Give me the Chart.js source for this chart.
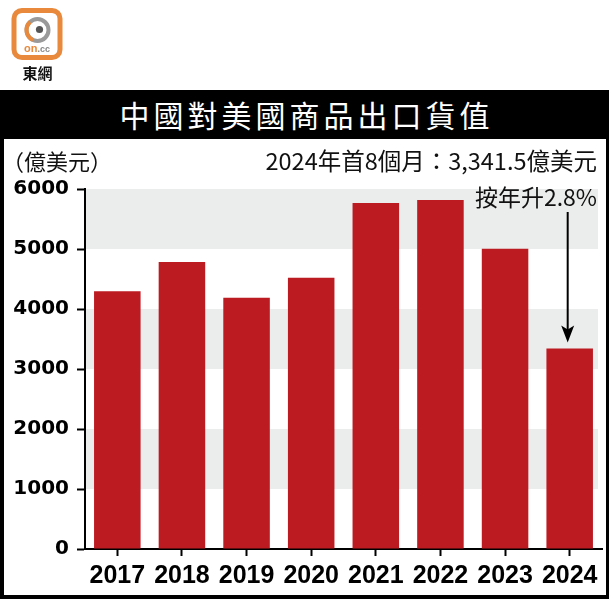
<!DOCTYPE html>
<html>
<head>
<meta charset="utf-8">
<script src="https://cdn.jsdelivr.net/npm/chart.js@4.4.1/dist/chart.umd.min.js"></script>
<style>
  html, body { margin: 0; padding: 0; background: #fff; }
  #wrap { position: relative; width: 609px; height: 599px; overflow: hidden; }
  #c { position: absolute; left: 0; top: 0; }
  .frame { position: absolute; left: 0; top: 90px; width: 609px; height: 509px; box-sizing: border-box;
           border-left: 4px solid #000; border-right: 3px solid #000; border-bottom: 4px solid #000; pointer-events: none; }
  .titlebar { position: absolute; left: 0; top: 90px; width: 609px; height: 49px; background: #000; color: #fff;
              font-family: "Noto Sans CJK TC", "Noto Sans CJK SC", sans-serif; font-size: 30px; line-height: 49px;
              text-align: center; letter-spacing: 4px; text-indent: 4px; }
  .txt { position: absolute; font-family: "Noto Sans CJK TC", "Noto Sans CJK SC", sans-serif; color: #111; line-height: 1; white-space: nowrap; }
  #unit { left: 2px; top: 149px; font-size: 22px; }
  #note1 { right: 12px; top: 149px; font-size: 23.5px; }
  #note2 { right: 12px; top: 185px; font-size: 23px; }
  #logo { position: absolute; left: 0; top: 0; }
</style>
</head>
<body>
<div id="wrap">
  <canvas id="c" width="609" height="599"></canvas>
  <svg id="logo" width="80" height="85" viewBox="0 0 80 85">
    <rect x="14" y="10.5" width="46" height="47" rx="8" ry="8" fill="#fff" stroke="#e8893b" stroke-width="5"/>
    <circle cx="37.5" cy="30" r="11" fill="none" stroke="#9a9a9a" stroke-width="4"/>
    <path d="M 30 22 A 11 11 0 0 0 33 40" fill="none" stroke="#e8893b" stroke-width="4"/>
    <circle cx="39.5" cy="29.5" r="3.6" fill="#555"/>
    <text x="37" y="52" text-anchor="middle" font-family="Liberation Sans, Arial, sans-serif" font-size="11" font-weight="bold"><tspan fill="#e8893b">on</tspan><tspan fill="#888" font-size="9">.cc</tspan></text>
    <text x="37.5" y="78.5" text-anchor="middle" font-family="Noto Sans CJK TC, sans-serif" font-size="15" font-weight="bold" fill="#111">東網</text>
  </svg>
  <div class="titlebar">中國對美國商品出口貨值</div>
  <div class="frame"></div>
  <div class="txt" id="unit">（億美元）</div>
  <div class="txt" id="note1">2024年首8個月：3,341.5億美元</div>
  <div class="txt" id="note2">按年升2.8%</div>
</div>
<script>
// ---- data ----
const years = ['2017', '2018', '2019', '2020', '2021', '2022', '2023', '2024'];
const exportValues = [4295, 4784, 4186, 4520, 5765, 5815, 5003, 3341.5];
const yMin = 0;
const yMax = 6000;
const yStep = 1000;
const shadedBands = [[1000, 2000], [3000, 4000], [5000, 6000]];
const arrowIndex = 7;

const bandPlugin = {
  id: 'bands',
  beforeDatasetsDraw(chart) {
    const { ctx, chartArea, scales } = chart;
    const y = scales.y;
    ctx.save();
    ctx.fillStyle = '#ebecec';
    shadedBands.forEach(([lo, hi]) => {
      const top = y.getPixelForValue(hi);
      const bot = y.getPixelForValue(lo);
      ctx.fillRect(chartArea.left + 1, top, 598 - chartArea.left - 1, bot - top);
    });
    ctx.restore();
  }
};

const arrowPlugin = {
  id: 'arrow',
  afterDatasetsDraw(chart) {
    const { ctx, scales } = chart;
    const x = scales.x.getPixelForValue(arrowIndex) - 2;
    const yEnd = scales.y.getPixelForValue(exportValues[arrowIndex]) - 6;
    const yStart = 212;
    ctx.save();
    ctx.strokeStyle = '#000';
    ctx.fillStyle = '#000';
    ctx.lineWidth = 2;
    ctx.beginPath();
    ctx.moveTo(x, yStart);
    ctx.lineTo(x, yEnd - 12);
    ctx.stroke();
    ctx.beginPath();
    ctx.moveTo(x, yEnd);
    ctx.lineTo(x - 6.5, yEnd - 17);
    ctx.lineTo(x, yEnd - 13);
    ctx.lineTo(x + 6.5, yEnd - 17);
    ctx.closePath();
    ctx.fill();
    ctx.restore();
  }
};

new Chart(document.getElementById('c'), {
  type: 'bar',
  data: {
    labels: years,
    datasets: [{
      data: exportValues,
      backgroundColor: '#bd1b22',
      borderWidth: 0,
      categoryPercentage: 1,
      barPercentage: 0.72
    }]
  },
  options: {
    responsive: false,
    devicePixelRatio: 1,
    animation: false,
    layout: { padding: { left: 0, right: 7, top: 189, bottom: 5 } },
    plugins: { legend: { display: false }, tooltip: { enabled: false }, title: { display: false } },
    scales: {
      x: {
        offset: true,
        grid: { display: true, drawOnChartArea: false, offset: false, drawTicks: true, tickLength: 7, tickColor: '#000', tickWidth: 2 },
        border: { display: true, color: '#000', width: 2 },
        ticks: { color: '#000', padding: 5, maxRotation: 0, autoSkip: false,
                 font: { family: 'Liberation Sans, Arial, sans-serif', size: 25, weight: 'bold' } },
        afterFit(s) { s.height = 45; }
      },
      y: {
        min: yMin, max: yMax,
        grid: { display: true, drawOnChartArea: false, drawTicks: true, tickLength: 8, tickColor: '#000', tickWidth: 2 },
        border: { display: true, color: '#000', width: 2 },
        ticks: { stepSize: yStep, color: '#000', padding: 8,
                 callback: (v) => String(v),
                 font: { family: 'DejaVu Sans, sans-serif', size: 20, weight: 'bold' } },
        afterFit(s) { s.width = 85; }
      }
    }
  },
  plugins: [bandPlugin, arrowPlugin]
});
</script>
</body>
</html>
